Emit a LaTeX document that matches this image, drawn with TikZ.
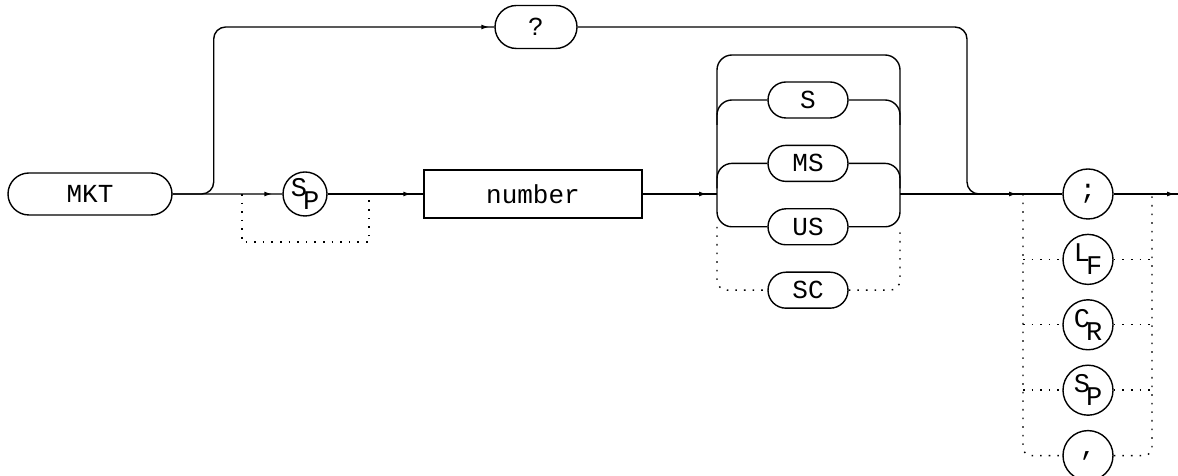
\documentclass[tikz,border=0pt]{standalone}
\usepackage{fontspec}
\newfontfamily\plotfont{Liberation Mono}
\usetikzlibrary{arrows.meta,positioning,calc,shapes.misc,decorations.markings}
\newcommand{\twolet}[2]{\raisebox{6.5pt}{#1}\kern-4pt\raisebox{-6.5pt}{#2}}

\begin{document}
\begin{tikzpicture}[
  x=1pt,y=1pt,line width=1.4pt,
  font=\plotfont\fontsize{26}{26}\selectfont,
  pill/.style={draw,rounded rectangle,minimum width=80pt,minimum height=36pt,inner sep=0pt},
  term/.style={draw,circle,minimum size=50pt,inner sep=0pt,
               font=\plotfont\fontsize{27}{27}\selectfont},
  arr/.style={postaction={decorate},decoration={markings,
              mark=at position #1 with {\arrow{Latex[length=8pt,width=5pt]}}}},
  dots/.style={dash pattern=on 1.6pt off 7pt}
]
  \useasboundingbox (0,0) rectangle (1178,476);

  % header, optional space, number
  \node[pill,minimum width=164pt,minimum height=42pt](mkt) at (90,282){MKT};
  \node[pill,minimum width=82pt,minimum height=43pt](q) at (536,449){?};
  \node[term,minimum size=44pt](sp1) at (305,282){\twolet{S}{P}};
  \node[draw,minimum width=218pt,minimum height=48pt](num) at (533,282){number};

  % units
  \node[pill](s) at (808,376){S};
  \node[pill,below=26pt of s](ms){MS};
  \node[pill,below=26pt of ms](us){US};
  \node[pill,below=26pt of us](sc){SC};

  % terminators
  \node[term](semi) at (1088,282){;};
  \node[term,below=14pt of semi](lf){\twolet{L}{F}};
  \node[term,below=14pt of lf](cr){\twolet{C}{R}};
  \node[term,below=14pt of cr](sp2){\twolet{S}{P}};
  \node[term,below=14pt of sp2](comma){,};

  \coordinate (d1) at (242,282);
  \coordinate (d2) at (369,282);
  \coordinate (cin) at (717,282);
  \coordinate (cout) at (900,282);
  \coordinate (join) at (967,282);
  \coordinate (rin) at (1023,282);
  \coordinate (rout) at (1152,282);
  \coordinate (fin) at (1178,282);

  % main line
  \draw[arr=-10pt](mkt)--(sp1);
  \draw[arr=-12pt](sp1)--(num);
  \draw[arr=-10pt](num)--(cin);
  \draw[arr=-6pt](cout)--(rin);
  \draw(rin)--(semi);
  \draw[arr=-3pt](semi)--(fin);
  \draw[dots](d1)--++(0,-48)-|(d2);

  % query bypass
  \draw[arr=-5pt,rounded corners=12pt](mkt.east)--++(41,0)|-(q.west);
  \draw[rounded corners=12pt](q.east)-|(join)--++(14,0);

  % unit choice
  \draw[rounded corners=15pt](us.west)-|($(cin)+(0,139)$)-|(cout|-us)--(us.east);
  \foreach \u in {s,ms}{
    \draw[rounded corners=15pt]($(cin|-\u)+(0,-25)$)|-(\u.west);
    \draw[rounded corners=15pt](\u.east)-|($(cout|-\u)+(0,-25)$);
  }
  \draw[dots,rounded corners=10pt](cin|-us)|-(sc.west);
  \draw[dots,rounded corners=10pt](sc.east)-|(cout|-us);

  % terminator choice
  \draw[dots,rounded corners=8pt](rin)|-(comma.west);
  \draw[dots,rounded corners=8pt](comma.east)-|(rout);
  \foreach \t in {lf,cr,sp2}{
    \draw[dots](rin|-\t)--(\t.west);
    \draw[dots](\t.east)--(rout|-\t);
  }
\end{tikzpicture}
\end{document}
